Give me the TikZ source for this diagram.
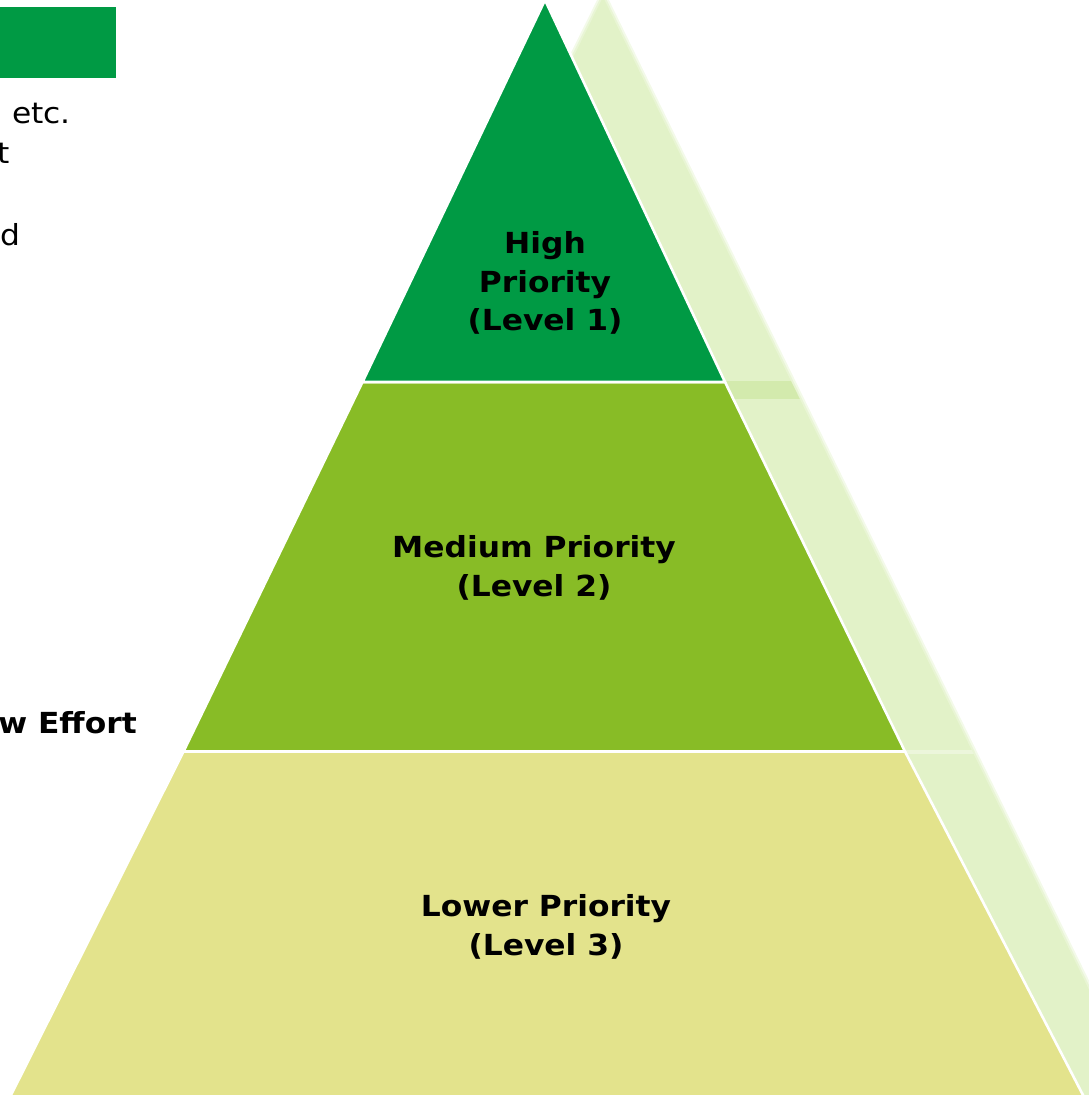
\documentclass[tikz,border=0pt]{standalone}
\usepackage{fontspec}
\setmainfont[FakeStretch=1.08]{DejaVu Sans}
\definecolor{lvlone}{RGB}{0,154,68}
\definecolor{lvltwo}{RGB}{136,188,38}
\definecolor{lvlthree}{RGB}{227,227,140}
\definecolor{shadowgreen}{RGB}{226,242,200}
\definecolor{shadowband}{RGB}{206,232,162}
\begin{document}
\begin{tikzpicture}[x=1pt,y=-1pt,
  level/.style={fill=#1, draw=white, line width=2.6pt, line join=miter},
  lbl/.style={font=\fontsize{29}{38.5}\selectfont\bfseries, align=center, inner sep=0pt, text=black},
  side/.style={font=\fontsize{29}{40}\selectfont, inner sep=0pt, anchor=base east, text=black}]
\useasboundingbox (0,0) rectangle (1089,1095);
\clip (0,0) rectangle (1089,1095);
% shadow of the pyramid
\coordinate (sA) at (603,-3);
\coordinate (sR) at (1191,1198);
\coordinate (sL) at (9,1198);
\fill[shadowgreen] (sA) -- (sR) -- (sL) -- cycle;
\draw[draw=shadowgreen, line width=8pt, opacity=0.4, line join=round] (sA) -- (sR) -- (sL) -- cycle;
\draw[draw=shadowgreen, line width=4pt, opacity=0.6, line join=round] (sA) -- (sR) -- (sL) -- cycle;
\begin{scope}
  \clip (sA) -- (sR) -- (sL) -- cycle;
  \fill[shadowband, opacity=0.7] (700,381) rectangle (1089,399);
  \fill[white, opacity=0.35] (880,750) rectangle (1089,754);
\end{scope}
% pyramid
\coordinate (apex) at (545,0);
\coordinate (p1l) at (362.5,382);
\coordinate (p1r) at (725,382);
\coordinate (p2l) at (183.5,751.5);
\coordinate (p2r) at (905,751.5);
\coordinate (p3l) at (10,1097);
\coordinate (p3r) at (1084,1097);
\path[level=lvlthree] (p2l) -- (p2r) -- (p3r) -- (p3l) -- cycle;
\path[level=lvltwo] (p1l) -- (p1r) -- (p2r) -- (p2l) -- cycle;
\path[level=lvlone] (apex) -- (p1r) -- (p1l) -- cycle;
% labels
\node[lbl] (t1) at (545,283) {High\\Priority\\(Level 1)};
\node[lbl] (t2) at (534,568) {Medium Priority\\(Level 2)};
\node[lbl] (t3) at (546,927) {Lower Priority\\(Level 3)};
% clipped content at the left
\fill[lvlone] (-10,7) rectangle (116,78);
\node[side] (s1) at (71,123) {s etc.};
\node[side] (s2) at (10,163) {t};
\node[side] (s3) at (21,245) {and};
\node[side, font=\fontsize{29}{40}\selectfont\bfseries] (s4) at (137,733) {Low Effort};
\end{tikzpicture}
\end{document}
